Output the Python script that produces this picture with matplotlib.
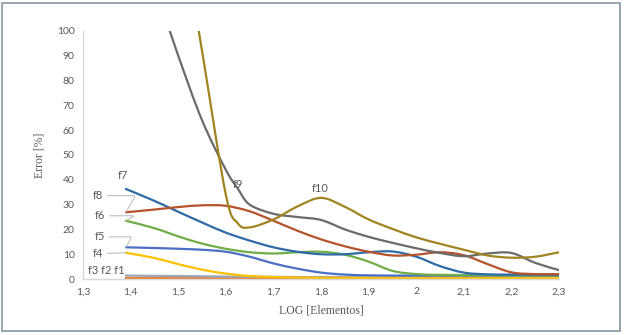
import matplotlib
matplotlib.use("Agg")
import matplotlib.pyplot as plt
from matplotlib.path import Path
from matplotlib.patches import PathPatch, Rectangle

# values (Error [%] vs LOG [Elementos])
log_elems = [1.39, 1.45, 1.5, 1.55, 1.6, 1.65, 1.7, 1.75, 1.8, 1.85,
             1.9, 1.95, 2.0, 2.05, 2.1, 2.15, 2.2, 2.25, 2.3]
# f9 / f10 bend sharply near 1.62, so they were read one step finer there
log_elems_fine = [1.39, 1.45, 1.5, 1.55, 1.6, 1.625, 1.65, 1.7, 1.75, 1.8, 1.85,
                  1.9, 1.95, 2.0, 2.05, 2.1, 2.15, 2.2, 2.25, 2.3]

f1 = [0.1, 0.1, 0.1, 0.1, 0.1, 0.1, 0.1, 0.1, 0.1, 0.1,
      0.1, 0.1, 0.1, 0.1, 0.1, 0.1, 0.1, 0.1, 0.1]
f2 = [0.4, 0.4, 0.35, 0.35, 0.3, 0.3, 0.3, 0.3, 0.3, 0.3,
      0.3, 0.3, 0.3, 0.3, 0.3, 0.3, 0.3, 0.3, 0.3]
f3 = [1.4, 1.3, 1.2, 1.1, 1.0, 0.9, 0.9, 0.8, 0.8, 0.8,
      0.7, 0.7, 0.7, 0.7, 0.7, 0.6, 0.6, 0.6, 0.6]
f4 = [10.6, 8.5, 6.0, 3.8, 2.2, 1.2, 0.8, 0.6, 0.5, 0.5,
      0.5, 0.5, 0.5, 0.5, 0.5, 0.5, 0.5, 0.5, 0.5]
f5 = [12.8, 12.5, 12.2, 11.8, 11.0, 9.0, 6.3, 4.2, 2.6, 1.8,
      1.5, 1.4, 1.4, 1.4, 1.4, 1.4, 1.4, 1.4, 1.4]
f6 = [23.5, 20.5, 17.2, 14.3, 12.2, 10.8, 10.3, 10.8, 11.0, 9.8,
      7.0, 3.3, 2.0, 1.7, 1.6, 1.5, 1.5, 1.5, 1.5]
f7 = [36.3, 31.5, 27.1, 22.8, 18.7, 15.5, 12.8, 11.0, 10.0, 10.0,
      10.8, 11.1, 9.0, 5.2, 2.6, 1.9, 1.8, 1.8, 1.8]
f8 = [26.9, 28.0, 29.0, 29.7, 29.5, 27.3, 23.5, 19.5, 16.0, 13.2,
      11.0, 9.5, 9.8, 10.8, 9.6, 6.0, 2.7, 2.0, 2.0]
f9 = [150, 118, 90, 64, 44, 36.5, 30.0, 26.3, 25.0, 23.8, 20.0,
      17.0, 14.6, 12.4, 10.5, 9.2, 10.3, 10.5, 6.5, 3.6]
f10 = [280, 210, 150, 92, 34, 22.5, 20.8, 24.0, 29.2, 32.7, 29.1,
       24.0, 20.2, 16.8, 14.2, 11.8, 9.5, 8.6, 9.0, 10.8]

series = [f1, f2, f3, f4, f5, f6, f7, f8, f9, f10]
x_of = [log_elems] * 8 + [log_elems_fine] * 2
names = ["f1", "f2", "f3", "f4", "f5", "f6", "f7", "f8", "f9", "f10"]
colors = ["#5b9bd5", "#ed7d31", "#9aa5b5", "#ffc000", "#4a6fc4",
          "#70ad47", "#2e6aa6", "#b5532b", "#6b6b6b", "#a08420"]

x_ticks = [1.3, 1.4, 1.5, 1.6, 1.7, 1.8, 1.9, 2.0, 2.1, 2.2, 2.3]
y_ticks = [0, 10, 20, 30, 40, 50, 60, 70, 80, 90, 100]


def smooth_path(xs, ys):
    # Excel-like smoothed line: Catmull-Rom turned into cubic Bezier segments
    pts = list(zip(xs, ys))
    verts = [pts[0]]
    codes = [Path.MOVETO]
    n = len(pts)
    for i in range(n - 1):
        p0 = pts[i - 1] if i > 0 else pts[i]
        p1 = pts[i]
        p2 = pts[i + 1]
        p3 = pts[i + 2] if i + 2 < n else pts[i + 1]
        c1 = (p1[0] + (p2[0] - p0[0]) / 6, p1[1] + (p2[1] - p0[1]) / 6)
        c2 = (p2[0] - (p3[0] - p1[0]) / 6, p2[1] - (p3[1] - p1[1]) / 6)
        verts += [c1, c2, p2]
        codes += [Path.CURVE4] * 3
    return Path(verts, codes)


fig = plt.figure(figsize=(6.24, 3.35), dpi=100)
ax = fig.add_axes([0.133, 0.167, 0.763, 0.741])

for xs, ys, c in zip(x_of, series, colors):
    ax.add_patch(PathPatch(smooth_path(xs, ys), facecolor="none",
                           edgecolor=c, lw=1.6, capstyle="round"))

ax.set_xlim(1.3, 2.3)
ax.set_ylim(0, 100)
ax.set_xticks(x_ticks)
ax.set_xticklabels([f"{v:g}".replace(".", ",") for v in x_ticks])
ax.set_yticks(y_ticks)
ax.tick_params(length=0, labelsize=7.5, colors="#595959", pad=6)
for lab in ax.get_xticklabels() + ax.get_yticklabels():
    lab.set_family("Lato")

for side in ["top", "right"]:
    ax.spines[side].set_visible(False)
for side in ["left", "bottom"]:
    ax.spines[side].set_color("#d9d9d9")
    ax.spines[side].set_linewidth(1.0)

ax.set_xlabel("LOG [Elementos]", family="Liberation Serif", fontsize=8.5,
              color="#595959", labelpad=6)
ax.set_ylabel("Error [%]", family="Liberation Serif", fontsize=8.5,
              color="#595959", labelpad=8)

# series labels
lbl = dict(fontsize=8, color="#595959", family="Lato", ha="center", va="center")
lead = dict(arrowstyle="-", color="#bfbfbf", lw=0.8, shrinkA=1, shrinkB=0)
ax.text(1.383, 41.9, "f7", **lbl)
ax.annotate("f8", xy=(log_elems[0], f8[0]), xytext=(1.332, 33.6),
            arrowprops=dict(connectionstyle="angle,angleA=0,angleB=60,rad=2", **lead), **lbl)
ax.annotate("f6", xy=(log_elems[0], f6[0]), xytext=(1.336, 25.5),
            arrowprops=dict(connectionstyle="angle,angleA=0,angleB=30,rad=2", **lead), **lbl)
ax.annotate("f5", xy=(log_elems[0], f5[0]), xytext=(1.336, 17.0),
            arrowprops=dict(connectionstyle="angle,angleA=0,angleB=60,rad=2", **lead), **lbl)
ax.annotate("f4", xy=(log_elems[0], f4[0]), xytext=(1.332, 10.2),
            arrowprops=lead, **lbl)
ax.text(1.348, 3.3, "f3 f2 f1", **lbl)
ax.text(1.625, 37.9, "f9", **lbl)
ax.text(1.798, 36.6, "f10", **lbl)

fig.patches.append(Rectangle((0.004, 0.012), 0.99, 0.978, transform=fig.transFigure,
                             fill=False, edgecolor="#8497a0", lw=1.2))

fig.savefig("out.png", dpi=100)
